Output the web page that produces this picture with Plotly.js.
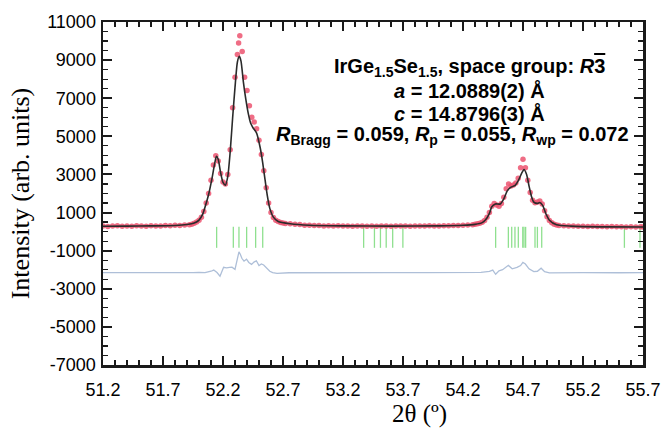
<!DOCTYPE html>
<html>
<head>
<meta charset="utf-8">
<script src="https://cdn.plot.ly/plotly-3.0.1.min.js"></script>
<style>html,body{margin:0;padding:0;background:#fff;}#chart{width:661px;height:436px;}</style>
</head>
<body>
<div id="chart"></div>
<script>
// Observed intensities (red dots)
const obsX = [
51.20,51.24,51.28,51.32,51.36,51.40,51.44,51.48,51.52,51.56,51.60,51.64,51.68,51.72,51.76,51.80,51.84,51.88,
51.92,51.94,51.96,51.98,52.00,52.02,52.04,52.06,52.08,52.10,52.12,52.14,52.16,52.18,52.20,52.22,52.24,52.26,52.28,52.30,
52.32,52.33,52.34,52.36,52.38,52.40,52.42,52.44,52.46,52.48,52.50,52.52,52.54,52.56,52.58,52.60,52.62,52.64,52.66,52.68,52.70,52.72,
52.76,52.80,52.84,52.88,52.92,52.96,53.00,53.04,53.08,53.12,53.16,53.20,53.24,53.28,53.32,53.36,53.40,53.44,53.48,53.52,
53.56,53.60,53.64,53.68,53.72,53.76,53.80,53.84,53.88,53.92,53.96,54.00,54.04,54.08,54.12,54.16,54.20,54.24,
54.28,54.30,54.32,54.34,54.36,54.38,54.40,54.42,54.44,54.46,54.48,54.50,54.52,54.54,54.56,54.58,54.60,54.62,54.64,
54.66,54.68,54.70,54.72,54.74,54.76,54.78,54.80,54.82,54.84,54.86,54.88,54.90,54.92,54.94,54.96,54.98,55.00,
55.04,55.08,55.12,55.16,55.20,55.24,55.28,55.32,55.36,55.40,55.44,55.48,55.52,55.56,55.60,55.64,55.68,55.70
];
const obsY = [
300,270,290,310,280,300,285,305,295,280,310,300,290,315,305,330,320,345,
360,390,440,500,600,760,1050,1500,2000,2700,3500,3980,3700,3050,2600,2500,3000,4300,6500,8100,
9300,9900,10280,9450,8100,7400,6600,6000,5750,5400,4800,4050,3200,2300,1500,1000,740,600,530,480,450,420,
410,380,370,340,335,320,325,300,310,295,305,290,300,285,300,290,280,295,285,300,
290,280,295,290,300,285,295,300,290,305,295,300,310,305,320,315,335,350,
360,390,410,440,490,580,760,1000,1330,1480,1400,1330,1480,1800,2250,2500,2400,2450,2550,
2800,3350,3800,3350,2700,2050,1650,1520,1560,1600,1450,1100,780,580,460,390,350,320,
310,290,300,280,285,270,280,265,270,255,265,250,260,245,255,245,250,240
];
// Calculated profile (black line)
const calcX = [51.20,51.40,51.60,51.80,51.90,51.96,52.00,52.03,52.05,52.08,52.11,52.13,52.145,52.16,52.18,52.20,52.22,52.24,52.26,52.28,52.30,52.32,52.336,52.35,52.37,52.39,52.41,52.43,52.45,52.48,52.51,52.53,52.55,52.57,52.59,52.62,52.66,52.76,52.92,53.20,53.60,54.00,54.20,54.30,54.36,54.39,54.42,54.44,54.47,54.51,54.54,54.57,54.60,54.635,54.66,54.69,54.708,54.73,54.75,54.77,54.79,54.82,54.84,54.865,54.89,54.92,54.98,55.10,55.40,55.70];
const calcY = [280,290,300,320,370,450,600,900,1280,1950,2850,3550,3950,3800,3100,2580,2440,2900,4200,5950,7570,8900,9200,8950,7850,6950,6220,5700,5450,5170,4400,3650,2740,1860,1220,760,530,410,330,300,290,300,330,380,470,630,960,1300,1450,1450,1720,2150,2330,2430,2660,3080,3260,3000,2400,1860,1550,1480,1530,1360,950,600,360,290,250,240];
// Difference curve (obs - calc, offset)
const diffX = [51.20,51.40,51.60,51.80,51.95,52.00,52.05,52.10,52.123,52.15,52.175,52.205,52.23,52.255,52.275,52.30,52.333,52.345,52.357,52.375,52.396,52.415,52.438,52.458,52.478,52.50,52.52,52.539,52.56,52.59,52.614,52.65,52.75,53.00,53.30,53.60,53.90,54.20,54.35,54.42,54.448,54.472,54.50,54.53,54.578,54.61,54.65,54.68,54.699,54.72,54.75,54.79,54.82,54.851,54.88,54.92,55.00,55.20,55.50,55.70];
const diffY = [-2150,-2160,-2145,-2155,-2150,-2140,-2150,-2080,-2020,-2150,-2340,-1870,-1900,-1880,-1870,-1980,-1060,-1200,-1400,-1550,-1450,-1620,-1720,-1600,-1530,-1780,-1700,-1750,-1900,-2080,-2150,-2190,-2160,-2150,-2160,-2150,-2155,-2150,-2140,-2090,-2020,-2240,-2060,-2000,-1770,-1950,-1880,-1780,-1620,-1700,-1950,-2100,-2080,-1920,-2100,-2170,-2160,-2150,-2160,-2150];
// Bragg reflection positions (green ticks)
const braggPos = [52.147,52.286,52.333,52.397,52.472,52.531,53.372,53.462,53.512,53.560,53.614,53.699,54.472,54.578,54.606,54.633,54.661,54.698,54.708,54.722,54.800,54.820,54.856,55.545,55.675];
const braggLevel = -300;
// Tick labels
const xTickVals = [51.2,51.7,52.2,52.7,53.2,53.7,54.2,54.7,55.2,55.7];
const xTickText = ["51.2","51.7","52.2","52.7","53.2","53.7","54.2","54.7","55.2","55.7"];
const yTickVals = [11000,9000,7000,5000,3000,1000,-1000,-3000,-5000,-7000];
const yTickText = ["11000","9000","7000","5000","3000","1000","-1000","-3000","-5000","-7000"];

const tickFont = {family: "Liberation Sans, Arial, sans-serif", size: 18, color: "#000"};
const annFont = {family: "Liberation Sans, Arial, sans-serif", size: 20, color: "#000"};
const serifFont = {family: "Liberation Serif, Times New Roman, serif", size: 26, color: "#000"};

const traces = [
  {x: diffX, y: diffY, mode: "lines", line: {color: "#aebfd8", width: 1.3}, hoverinfo: "skip"},
  {x: braggPos, y: braggPos.map(() => braggLevel), mode: "markers",
   marker: {symbol: "line-ns-open", size: 15, color: "#8fe08f", line: {color: "#8fe08f", width: 1.3}}},
  {x: obsX, y: obsY, mode: "markers", marker: {color: "rgba(236,84,112,0.85)", size: 5.5}},
  {x: calcX, y: calcY, mode: "lines", line: {color: "#2b2b2b", width: 1.6, shape: "spline", smoothing: 0.6}}
];

const axisCommon = {
  showline: true, linecolor: "#1a1a1a", linewidth: 2.5, mirror: "ticks",
  ticks: "inside", ticklen: 9, tickwidth: 2, tickcolor: "#1a1a1a",
  showgrid: false, zeroline: false, tickfont: tickFont
};

const layout = {
  width: 661, height: 436,
  margin: {l: 103, r: 18, t: 17, b: 71},
  paper_bgcolor: "#fff", plot_bgcolor: "#fff",
  showlegend: false,
  xaxis: Object.assign({}, axisCommon, {
    range: [51.2, 55.7], tickmode: "array", tickvals: xTickVals, ticktext: xTickText,
    minor: {dtick: 0.1, tick0: 51.2, ticks: "inside", ticklen: 5, tickwidth: 1.2, tickcolor: "#1a1a1a"},
    ticklabelstandoff: 7, ticklabeloverflow: "allow"
  }),
  yaxis: Object.assign({}, axisCommon, {
    range: [-7000, 11000], tickmode: "array", tickvals: yTickVals, ticktext: yTickText,
    minor: {dtick: 500, tick0: -7000, ticks: "inside", ticklen: 5, tickwidth: 1.2, tickcolor: "#1a1a1a"},
    ticklabelstandoff: 1, ticklabeloverflow: "allow",
    automargin: true,
    title: {text: "Intensity (arb. units)", font: serifFont, standoff: 10}
  }),
  annotations: [
    {xref: "paper", yref: "paper", x: 0.6796, y: 0.868, xanchor: "center", yanchor: "middle", showarrow: false, font: annFont,
     text: "<b>IrGe<sub>1.5</sub>Se<sub>1.5</sub>, space group: <i>R</i><span style=\"text-decoration:overline\">3</span></b>"},
    {xref: "paper", yref: "paper", x: 0.6796, y: 0.799, xanchor: "center", yanchor: "middle", showarrow: false, font: annFont,
     text: "<b><i>a</i> = 12.0889(2) Å</b>"},
    {xref: "paper", yref: "paper", x: 0.6796, y: 0.734, xanchor: "center", yanchor: "middle", showarrow: false, font: annFont,
     text: "<b><i>c</i> = 14.8796(3) Å</b>"},
    {xref: "paper", yref: "paper", x: 0.648, y: 0.670, xanchor: "center", yanchor: "middle", showarrow: false, font: annFont,
     text: "<b><i>R</i><sub>Bragg</sub> = 0.059, <i>R</i><sub>p</sub> = 0.055, <i>R</i><sub>wp</sub> = 0.072</b>"},
    {xref: "paper", yref: "paper", x: 0.587, y: -0.143, xanchor: "center", yanchor: "middle", showarrow: false,
     font: {family: "Liberation Serif, Times New Roman, serif", size: 25, color: "#000"}, text: "2θ (º)"}
  ]
};

Plotly.newPlot("chart", traces, layout, {staticPlot: true, displayModeBar: false});
</script>
</body>
</html>
